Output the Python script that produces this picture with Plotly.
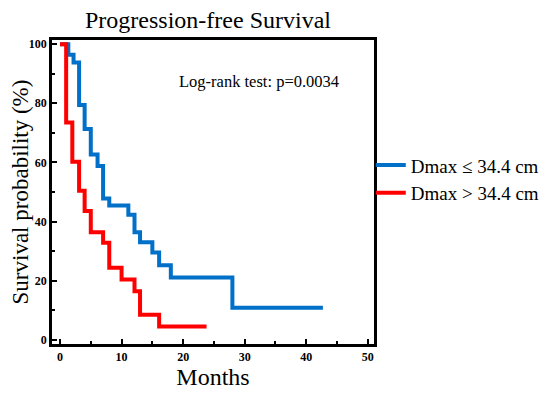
import plotly.graph_objects as go

# Kaplan-Meier step data
blue_t = [0, 1.35, 2.2, 3.1, 4.0, 5.0, 6.1, 7.0, 8.0, 11.1, 12.1, 13.0, 15.0, 16.1, 18.0, 28.0, 42.7]
blue_s = [100, 96.4, 93.8, 79.4, 71.3, 62.7, 58.8, 47.8, 45.4, 42.3, 36.4, 33.0, 29.5, 25.2, 21.1, 10.9, 10.9]
red_t = [0, 1.0, 2.0, 3.1, 4.0, 5.0, 7.0, 8.0, 10.0, 12.1, 13.0, 16.1, 23.8]
red_s = [100, 73.5, 60.2, 50.4, 43.6, 36.4, 32.8, 24.4, 20.4, 16.4, 8.5, 4.5, 4.5]

blue_name = "Dmax ≤ 34.4 cm"
red_name = "Dmax > 34.4 cm"
title_text = "Progression-free Survival"
annot_text = "Log-rank test: p=0.0034"

SERIF = "Times New Roman, Liberation Serif, serif"

fig = go.Figure()
fig.add_trace(go.Scatter(x=blue_t, y=blue_s, mode="lines", line_shape="hv",
                         line=dict(color="#0070C8", width=4), name=blue_name))
fig.add_trace(go.Scatter(x=red_t, y=red_s, mode="lines", line_shape="hv",
                         line=dict(color="#FF0000", width=4), name=red_name))

fig.update_layout(
    width=550, height=399,
    margin=dict(l=44, r=184, t=32, b=63),
    paper_bgcolor="white", plot_bgcolor="white",
    title=dict(text=title_text, x=200/550, xanchor="center", y=1 - 3/399, yanchor="top",
               pad=dict(t=0, b=0), font=dict(family=SERIF, size=24, color="black")),
    font=dict(family=SERIF, color="black"),
    legend=dict(x=0.99, y=0.542, xanchor="left", yanchor="middle",
                font=dict(family=SERIF, size=19, color="black"),
                tracegroupgap=0, bgcolor="rgba(0,0,0,0)"),
    showlegend=True,
)
fig.update_xaxes(range=[-1.3, 51], tickvals=[0, 10, 20, 30, 40, 50], automargin=False,
                 ticks="inside", ticklen=5, tickwidth=2, tickcolor="black",
                 minor=dict(dtick=5, tick0=0, ticks="inside", ticklen=3, tickwidth=2, tickcolor="black"),
                 showline=True, linecolor="black", linewidth=2.5, mirror=True,
                 showgrid=False, zeroline=False,
                 tickfont=dict(family=SERIF, size=12, color="black", weight="bold"),
                 title=dict(text="Months", font=dict(family=SERIF, size=24, color="black"), standoff=6))
fig.update_yaxes(range=[-1.4, 101.4], tickvals=[0, 20, 40, 60, 80, 100], automargin=False,
                 ticks="inside", ticklen=5, tickwidth=2, tickcolor="black",
                 minor=dict(dtick=10, tick0=0, ticks="inside", ticklen=3, tickwidth=2, tickcolor="black"),
                 showline=True, linecolor="black", linewidth=2.5, mirror=True,
                 showgrid=False, zeroline=False,
                 tickfont=dict(family=SERIF, size=12, color="black", weight="bold"),
                 title=dict(text="Survival probability (%)", font=dict(family=SERIF, size=23, color="black"), standoff=10))
fig.add_annotation(text=annot_text, x=0.643, y=0.862, xref="paper", yref="paper",
                   showarrow=False, xanchor="center", yanchor="middle",
                   font=dict(family=SERIF, size=16.5, color="black"))

fig.write_html("out.html")
